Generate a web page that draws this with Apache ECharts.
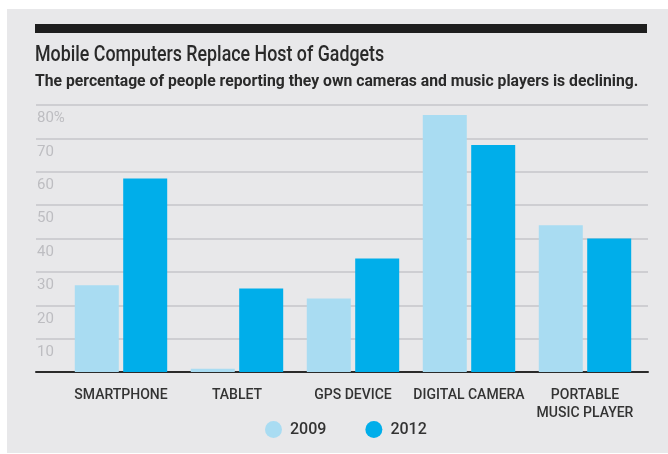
<!DOCTYPE html>
<html>
<head>
<meta charset="utf-8">
<script src="https://cdn.jsdelivr.net/npm/echarts@6/dist/echarts.min.js"></script>
<style>
  html, body { margin: 0; padding: 0; background: #ffffff; }
  #chart { width: 668px; height: 454px; }
</style>
</head>
<body>
<div id="chart"></div>
<script>
// data
const categories = ['SMARTPHONE', 'TABLET', 'GPS DEVICE', 'DIGITAL CAMERA', 'PORTABLE\nMUSIC PLAYER'];
const years = ['2009', '2012'];
const values2009 = [26, 1, 22, 77, 44];
const values2012 = [58, 25, 34, 68, 40];
const yTicks = [0, 10, 20, 30, 40, 50, 60, 70, 80];

const font = 'Roboto, sans-serif';
const light = '#a9dcf2';
const dark = '#00aeea';

const chart = echarts.init(document.getElementById('chart'));

const option = {
  backgroundColor: '#ffffff',
  animation: false,
  graphic: [
    { type: 'rect', z: -100, silent: true, shape: { x: 7, y: 9, width: 661, height: 444 }, style: { fill: '#e8e8ea' } },
    { type: 'rect', silent: true, shape: { x: 35, y: 24, width: 612, height: 9 }, style: { fill: '#1e1e1e' } },
    // title + subtitle squeezed a bit, the original uses a condensed face
    {
      type: 'text', silent: true, x: 35, y: 44.5, scaleX: 0.81,
      style: { text: 'Mobile Computers Replace Host of Gadgets', font: '500 22px Roboto, sans-serif', fill: '#2a2a2a' }
    },
    {
      type: 'text', silent: true, x: 35, y: 73, scaleX: 0.925,
      style: { text: 'The percentage of people reporting they own cameras and music players is declining.', font: 'bold 17px Roboto, sans-serif', fill: '#2a2a2a' }
    }
  ],
  legend: {
    data: years,
    left: 260,
    top: 416,
    icon: 'circle',
    itemWidth: 17,
    itemHeight: 17,
    itemGap: 39,
    textStyle: { fontFamily: font, fontSize: 16, fontWeight: 500, color: '#333', padding: [0, 0, 0, 3] }
  },
  grid: [
    { left: 36, right: 20, top: 105, bottom: 82 },
    { left: 63, right: 25, top: 105, bottom: 82 }
  ],
  xAxis: [
    {
      gridIndex: 0, type: 'value', min: 0, max: 1,
      axisLine: { show: true, onZero: false, lineStyle: { color: '#2b2b2b', width: 2 } },
      axisTick: { show: false }, axisLabel: { show: false }, splitLine: { show: false }
    },
    {
      gridIndex: 1, type: 'category', data: categories,
      axisLine: { show: false }, axisTick: { show: false },
      axisLabel: {
        margin: 14, fontFamily: font, fontSize: 14, fontWeight: 500, lineHeight: 18,
        color: '#333', interval: 0, verticalAlign: 'top'
      }
    }
  ],
  yAxis: [
    {
      gridIndex: 0, type: 'value', min: yTicks[0], max: yTicks[yTicks.length - 1], interval: 10,
      axisLine: { show: false }, axisTick: { show: false },
      splitLine: { lineStyle: { color: '#c6c6ca', width: 1.5 } },
      axisLabel: {
        inside: true, margin: 1, verticalAlign: 'top', padding: [6, 0, 0, 0],
        fontFamily: font, fontSize: 15, color: '#bdbdc1',
        formatter: v => v === 0 ? '' : (v === 80 ? v + '%' : String(v))
      }
    },
    {
      gridIndex: 1, type: 'value', min: 0, max: 80,
      show: false, splitLine: { show: false }
    }
  ],
  series: [
    {
      name: years[0], type: 'bar', xAxisIndex: 1, yAxisIndex: 1,
      data: values2009, barWidth: 44, barGap: '10%',
      itemStyle: { color: light }
    },
    {
      name: years[1], type: 'bar', xAxisIndex: 1, yAxisIndex: 1,
      data: values2012, barWidth: 44, barGap: '10%',
      itemStyle: { color: dark }
    }
  ]
};

chart.setOption(option);
</script>
</body>
</html>
